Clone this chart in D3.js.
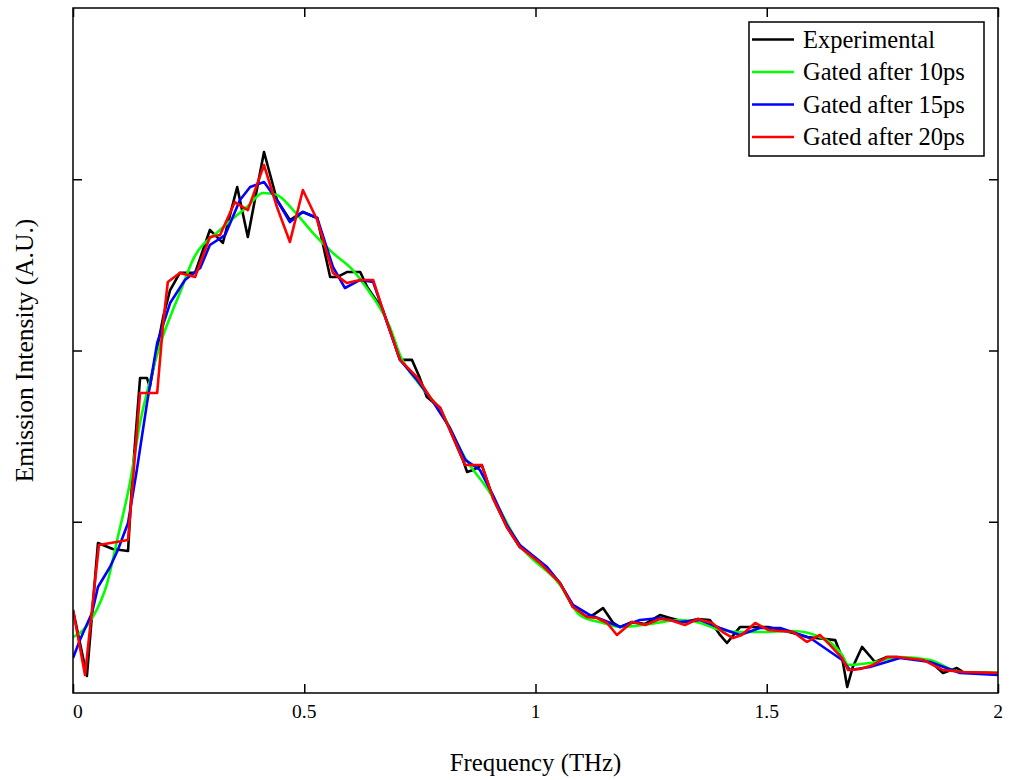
<!DOCTYPE html>
<html>
<head>
<meta charset="utf-8">
<script src="https://cdn.jsdelivr.net/npm/d3@7"></script>
<style>
  html, body { margin: 0; padding: 0; background: #fff; }
  svg { display: block; }
  text { font-family: "Liberation Serif", "Times New Roman", serif; fill: #000; }
</style>
</head>
<body>
<svg id="chart" width="1010" height="780"></svg>
<script>
// ---------------- DATA ----------------
const xTicks = [0, 0.5, 1, 1.5, 2];
const xTickLabels = ["0", "0.5", "1", "1.5", "2"];
const yTicks = [1, 2, 3];
const seriesNames = ["Experimental", "Gated after 10ps", "Gated after 15ps", "Gated after 20ps"];
const seriesColors = ["#000000", "#00ff00", "#0000ff", "#ff0000"];

// Experimental
const expFreq = [0.000,0.030,0.054,0.086,0.119,0.128,0.145,0.160,0.166,0.195,0.210,0.231,0.264,0.296,0.324,0.355,0.378,0.413,0.441,0.469,0.497,0.528,0.556,0.571,0.592,0.621,0.636,0.670,0.707,0.733,0.750,0.765,0.794,0.815,0.843,0.852,0.865,0.884,0.908,0.938,0.966,1.010,1.053,1.081,1.111,1.124,1.146,1.168,1.183,1.209,1.237,1.269,1.291,1.323,1.351,1.377,1.399,1.414,1.442,1.464,1.503,1.557,1.587,1.648,1.663,1.674,1.686,1.706,1.734,1.760,1.782,1.853,1.881,1.911,1.924,2.000];
const expVal  = [0.485,0.099,0.876,0.841,0.829,1.244,1.839,1.839,1.787,2.196,2.353,2.453,2.453,2.704,2.628,2.955,2.663,3.159,2.879,2.762,2.809,2.774,2.429,2.429,2.458,2.458,2.371,2.236,1.945,1.945,1.839,1.728,1.664,1.536,1.361,1.291,1.302,1.331,1.139,0.969,0.853,0.759,0.642,0.502,0.444,0.455,0.496,0.409,0.385,0.415,0.403,0.455,0.438,0.415,0.432,0.426,0.339,0.292,0.385,0.385,0.385,0.350,0.327,0.309,0.204,0.035,0.152,0.269,0.181,0.210,0.210,0.187,0.117,0.146,0.123,0.117];

// Gated after 10ps
const g10Freq = [0.000,0.015,0.043,0.074,0.097,0.123,0.145,0.171,0.188,0.210,0.231,0.259,0.318,0.376,0.411,0.441,0.476,0.519,0.562,0.605,0.638,0.685,0.707,0.750,0.794,0.848,0.902,0.966,1.053,1.096,1.146,1.183,1.248,1.312,1.356,1.399,1.442,1.485,1.557,1.615,1.663,1.676,1.723,1.788,1.853,1.918,2.000];
const g10Val  = [0.327,0.350,0.444,0.642,0.911,1.226,1.577,1.869,2.032,2.196,2.336,2.528,2.704,2.838,2.920,2.908,2.820,2.686,2.569,2.470,2.353,2.137,1.974,1.799,1.653,1.372,1.168,0.864,0.631,0.455,0.409,0.385,0.403,0.426,0.409,0.368,0.356,0.356,0.362,0.327,0.222,0.164,0.175,0.210,0.193,0.123,0.117];

// Gated after 15ps
const g15Freq = [0.000,0.015,0.041,0.054,0.080,0.097,0.119,0.138,0.160,0.182,0.210,0.242,0.275,0.296,0.329,0.361,0.383,0.413,0.441,0.469,0.497,0.528,0.562,0.588,0.621,0.649,0.670,0.707,0.744,0.776,0.815,0.848,0.880,0.908,0.938,0.966,1.025,1.053,1.081,1.118,1.146,1.183,1.226,1.269,1.312,1.356,1.399,1.442,1.485,1.529,1.594,1.663,1.680,1.723,1.788,1.853,1.918,2.000];
const g15Val  = [0.204,0.309,0.467,0.619,0.736,0.835,0.993,1.302,1.693,2.044,2.277,2.412,2.482,2.616,2.674,2.879,2.955,2.984,2.879,2.750,2.809,2.774,2.488,2.365,2.412,2.400,2.236,1.945,1.828,1.711,1.547,1.361,1.302,1.156,0.981,0.864,0.736,0.642,0.514,0.455,0.426,0.385,0.426,0.438,0.415,0.426,0.380,0.339,0.380,0.380,0.321,0.193,0.134,0.152,0.204,0.181,0.117,0.105];

// Gated after 20ps
const g20Freq = [0.000,0.026,0.056,0.119,0.145,0.182,0.195,0.205,0.231,0.264,0.296,0.318,0.350,0.378,0.413,0.441,0.469,0.497,0.528,0.562,0.592,0.621,0.649,0.670,0.707,0.744,0.776,0.794,0.815,0.848,0.884,0.908,0.938,0.966,1.010,1.053,1.081,1.111,1.133,1.155,1.176,1.209,1.237,1.269,1.291,1.323,1.351,1.382,1.405,1.427,1.446,1.475,1.503,1.557,1.587,1.615,1.637,1.663,1.676,1.702,1.730,1.760,1.782,1.838,1.881,1.924,2.000];
const g20Val  = [0.485,0.105,0.864,0.893,1.752,1.752,2.161,2.400,2.453,2.429,2.663,2.674,2.867,2.820,3.083,2.838,2.634,2.937,2.762,2.453,2.394,2.412,2.412,2.236,1.945,1.845,1.711,1.664,1.536,1.331,1.331,1.139,0.969,0.853,0.759,0.642,0.502,0.444,0.438,0.409,0.339,0.415,0.397,0.432,0.426,0.397,0.432,0.409,0.356,0.321,0.339,0.409,0.368,0.356,0.298,0.339,0.280,0.204,0.134,0.140,0.164,0.210,0.210,0.193,0.134,0.123,0.117];

// ---------------- CHART ----------------
const svg = d3.select("#chart");
const plot = { left: 73, right: 998, top: 8, bottom: 693 };

const x = d3.scaleLinear().domain([0, 2]).range([plot.left, plot.right]);
const y = d3.scaleLinear().domain([0, 4]).range([plot.bottom, plot.top]);

const series = [
  { freq: expFreq, val: expVal },
  { freq: g10Freq, val: g10Val },
  { freq: g15Freq, val: g15Val },
  { freq: g20Freq, val: g20Val }
];

svg.append("defs").append("clipPath").attr("id", "clip")
  .append("rect")
  .attr("x", plot.left).attr("y", plot.top)
  .attr("width", plot.right - plot.left).attr("height", plot.bottom - plot.top);

const line = d3.line().x(d => x(d[0])).y(d => y(d[1]));

const lines = svg.append("g").attr("clip-path", "url(#clip)");
series.forEach((s, i) => {
  const pts = s.freq.map((f, j) => [f, s.val[j]]);
  lines.append("path")
    .datum(pts)
    .attr("fill", "none")
    .attr("stroke", seriesColors[i])
    .attr("stroke-width", 2.6)
    .attr("stroke-linejoin", "round")
    .attr("d", i === 1 ? line.curve(d3.curveMonotoneX)(pts) : line.curve(d3.curveLinear)(pts));
});

// axes (ticks inward on all sides)
const tickLen = 9;
const axBottom = svg.append("g").attr("transform", `translate(0,${plot.bottom})`)
  .call(d3.axisBottom(x).tickValues(xTicks).tickSizeInner(-tickLen).tickSizeOuter(0).tickFormat(""));
const axTop = svg.append("g").attr("transform", `translate(0,${plot.top})`)
  .call(d3.axisTop(x).tickValues(xTicks).tickSizeInner(-tickLen).tickSizeOuter(0).tickFormat(""));
const axLeft = svg.append("g").attr("transform", `translate(${plot.left},0)`)
  .call(d3.axisLeft(y).tickValues(yTicks).tickSizeInner(-tickLen).tickSizeOuter(0).tickFormat(""));
const axRight = svg.append("g").attr("transform", `translate(${plot.right},0)`)
  .call(d3.axisRight(y).tickValues(yTicks).tickSizeInner(-tickLen).tickSizeOuter(0).tickFormat(""));
[axBottom, axTop, axLeft, axRight].forEach(a => {
  a.select(".domain").remove();
  a.selectAll(".tick line").attr("stroke", "#000").attr("stroke-width", 1.5);
});

// frame
svg.append("rect")
  .attr("x", plot.left).attr("y", plot.top)
  .attr("width", plot.right - plot.left).attr("height", plot.bottom - plot.top)
  .attr("fill", "none").attr("stroke", "#000").attr("stroke-width", 1.5);

// tick labels
svg.append("g").selectAll("text")
  .data(xTicks)
  .join("text")
  .attr("x", d => x(d))
  .attr("y", 718)
  .attr("text-anchor", (d, i) => i === 0 ? "start" : "middle")
  .attr("font-size", 19.5)
  .text((d, i) => xTickLabels[i]);

// axis titles
svg.append("text")
  .attr("x", (plot.left + plot.right) / 2)
  .attr("y", 771)
  .attr("text-anchor", "middle")
  .attr("font-size", 24.8)
  .text("Frequency (THz)");

svg.append("text")
  .attr("transform", `translate(33,${(plot.top + plot.bottom) / 2}) rotate(-90)`)
  .attr("text-anchor", "middle")
  .attr("font-size", 25.5)
  .text("Emission Intensity (A.U.)");

// legend
const leg = svg.append("g");
leg.append("rect")
  .attr("x", 749).attr("y", 22).attr("width", 235).attr("height", 134)
  .attr("fill", "#fff").attr("stroke", "#000").attr("stroke-width", 1.5);
seriesNames.forEach((name, i) => {
  const cy = 39.5 + i * 32.5;
  leg.append("line")
    .attr("x1", 752).attr("x2", 794).attr("y1", cy).attr("y2", cy)
    .attr("stroke", seriesColors[i]).attr("stroke-width", 2.6);
  leg.append("text")
    .attr("x", 803).attr("y", cy + 8)
    .attr("font-size", 24.5)
    .text(name);
});
</script>
</body>
</html>
